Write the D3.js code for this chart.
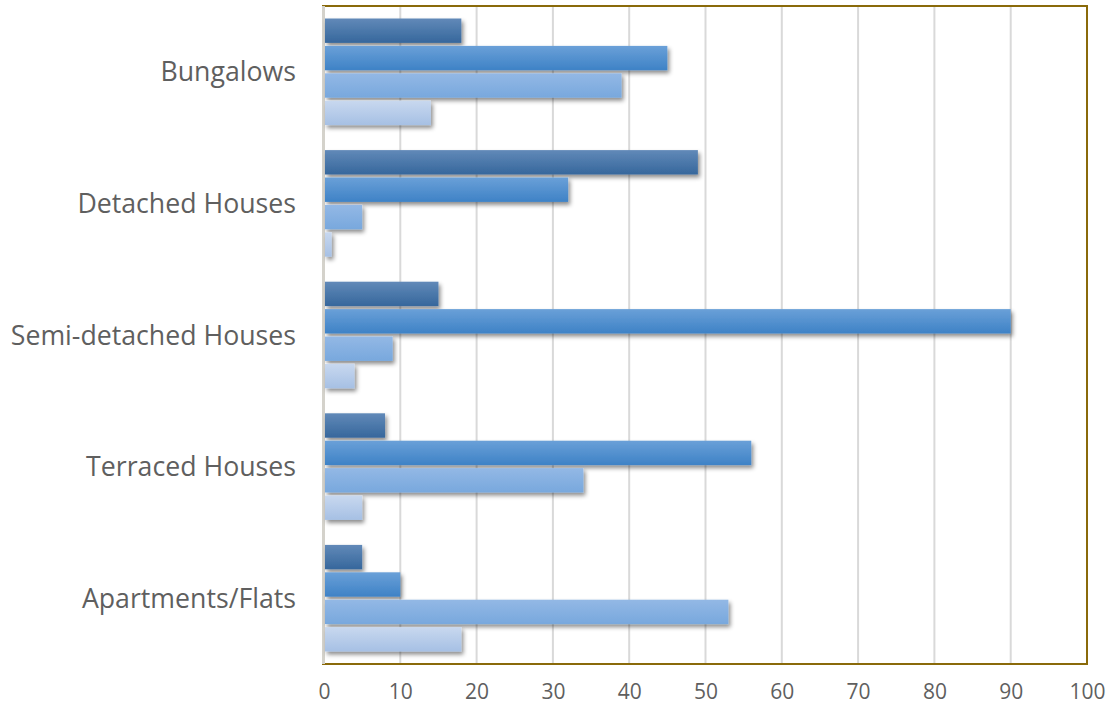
<!DOCTYPE html>
<html><head><meta charset="utf-8">
<script src="https://cdn.jsdelivr.net/npm/d3@7"></script>
<style>
html,body{margin:0;padding:0;background:#fff;}
svg{display:block;font-family:"Open Sans",sans-serif;}
</style></head>
<body><svg id="c" width="1110" height="707"></svg>
<script>
const categories = ["Bungalows","Detached Houses","Semi-detached Houses","Terraced Houses","Apartments/Flats"];
const series1 = [18,49,15,8,5];
const series2 = [45,32,90,56,10];
const series3 = [39,5,9,34,53];
const series4 = [14,1,4,5,18];
const xTicks = [0,10,20,30,40,50,60,70,80,90,100];

const seriesList = [series1,series2,series3,series4];
const grads = [["#6189b8","#36679c"],["#6aa0d8","#3e82c6"],["#93b8e5","#78a8dd"],["#c8d8ef","#a6c0e4"]];

const svg = d3.select("#c");
const L = 324, R = 1087, T = 6, B = 664;
const x = d3.scaleLinear().domain([0,100]).range([L,R]);
const y = d3.scaleBand().domain(categories).range([T,B]).paddingInner(0.19).paddingOuter(0.095);
const ys = d3.scaleBand().domain(d3.range(4)).range([0,y.bandwidth()]).paddingInner(0.11);

const defs = svg.append("defs");
grads.forEach((g,i)=>{
  const lg = defs.append("linearGradient").attr("id","g"+i).attr("x1",0).attr("y1",0).attr("x2",0).attr("y2",1);
  lg.append("stop").attr("offset","0%").attr("stop-color",g[0]);
  lg.append("stop").attr("offset","100%").attr("stop-color",g[1]);
});
const f = defs.append("filter").attr("id","sh").attr("x","-10%").attr("y","-30%").attr("width","130%").attr("height","180%");
f.append("feDropShadow").attr("dx",2).attr("dy",3).attr("stdDeviation",2.2).attr("flood-color","#000").attr("flood-opacity",0.45);

// gridlines
svg.append("g").selectAll("line").data(xTicks.slice(1,-1)).join("line")
  .attr("x1",d=>x(d)).attr("x2",d=>x(d)).attr("y1",T).attr("y2",B)
  .attr("stroke","#d9d9d9").attr("stroke-width",2);

// border
svg.append("rect").attr("x",L-1).attr("y",T).attr("width",R-L+1).attr("height",B-T)
  .attr("fill","none").attr("stroke","#8a6a0a").attr("stroke-width",2);
// left axis
svg.append("line").attr("x1",L-0.5).attr("x2",L-0.5).attr("y1",T).attr("y2",B)
  .attr("stroke","#d4d2cb").attr("stroke-width",3);

// bars
const g = svg.append("g").attr("filter","url(#sh)");
categories.forEach((c,ci)=>{
  seriesList.forEach((s,si)=>{
    g.append("rect").attr("x",x(0)+1).attr("y",y(c)+ys(si))
     .attr("width",x(s[ci])-x(0)-1).attr("height",ys.bandwidth())
     .attr("fill","url(#g"+si+")");
  });
});

// category labels
svg.append("g").selectAll("text").data(categories).join("text")
  .attr("x",296).attr("y",d=>y(d)+y.bandwidth()/2).attr("dy","0.36em")
  .attr("text-anchor","end").attr("font-size",26.7).attr("fill","#5f5f5f").text(d=>d);

// x axis labels
const ax = svg.append("g").attr("transform",`translate(0,${B})`)
  .call(d3.axisBottom(x).tickValues(xTicks).tickSize(0).tickPadding(20));
ax.select(".domain").remove();
ax.selectAll("text").attr("font-size",21).attr("fill","#5f5f5f").attr("font-family","'Open Sans',sans-serif");
</script></body></html>
